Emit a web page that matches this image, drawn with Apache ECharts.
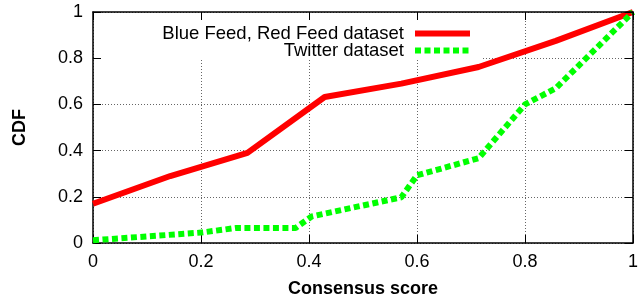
<!DOCTYPE html>
<html>
<head>
<meta charset="utf-8">
<script src="https://cdn.jsdelivr.net/npm/echarts@6/dist/echarts.min.js"></script>
<style>
    html, body { margin: 0; padding: 0; background: #fff; }
    #chart1 { width: 641px; height: 303px; }
</style>
</head>
<body>
<div id="chart1"></div>
<script>
// values
var redName = 'Blue Feed, Red Feed dataset';
var greenName = 'Twitter dataset';
var redX = [0, 0.143, 0.286, 0.429, 0.571, 0.714, 0.857, 1];
var redY = [0.17, 0.29, 0.39, 0.632, 0.69, 0.762, 0.875, 1];
var greenX = [0, 0.2, 0.265, 0.375, 0.405, 0.571, 0.6, 0.714, 0.8, 0.857, 1];
var greenY = [0.012, 0.045, 0.065, 0.065, 0.115, 0.198, 0.293, 0.367, 0.6, 0.67, 1];

var font = "'Liberation Sans', Arial, sans-serif";

var toPairs = function (xs, ys) {
    var out = [];
    for (var i = 0; i < xs.length; i++) {
        out.push([xs[i], ys[i]]);
    }
    return out;
};

var frameLine = { show: true, onZero: false, lineStyle: { color: '#000', width: 1.5 } };
var tickIn = { show: true, inside: true, length: 8, lineStyle: { color: '#000', width: 1 } };
var gridDots = { show: true, lineStyle: { color: '#666', width: 1, type: [1, 2] } };

var legendBase = function (name, top) {
    return {
        data: [name],
        right: 168, top: top, padding: 0,
        align: 'right', itemWidth: 55, itemHeight: 14,
        selectedMode: false,
        itemStyle: { opacity: 0 },      // no symbol, line only
        lineStyle: { width: 6 },
        textStyle: { fontSize: 18.5, color: '#000', fontFamily: font, padding: [0, 6, 0, 0] }
    };
};

var myChart = echarts.init(document.getElementById('chart1'));
var option = {
    animation: false,
    backgroundColor: '#fff',
    textStyle: { fontFamily: font },
    grid: { left: 93, right: 1.5, top: 12, bottom: 60, containLabel: false },
    legend: [legendBase(redName, 24), legendBase(greenName, 41)],
    // key area in gnuplot hides the grid behind it
    graphic: [{
        type: 'rect', z: 1, silent: true,
        shape: { x: 102, y: 21, width: 381, height: 39 },
        style: { fill: '#fff' }
    }],
    xAxis: [{
        type: 'value', min: 0, max: 1, interval: 0.2, position: 'bottom',
        axisLine: frameLine, axisTick: tickIn, splitLine: gridDots,
        axisLabel: { fontSize: 18, color: '#000', margin: 10, fontFamily: font },
        name: 'Consensus score', nameLocation: 'middle', nameGap: 37,
        nameTextStyle: { fontSize: 18, fontWeight: 'bold', color: '#000', fontFamily: font }
    }, {
        type: 'value', min: 0, max: 1, interval: 0.2, position: 'top', z: 3,
        axisLine: frameLine, axisTick: tickIn, splitLine: { show: false },
        axisLabel: { show: false }
    }],
    yAxis: [{
        type: 'value', min: 0, max: 1, interval: 0.2, position: 'left',
        axisLine: frameLine, axisTick: tickIn, splitLine: gridDots,
        axisLabel: { fontSize: 18, color: '#000', margin: 10, fontFamily: font },
        name: 'CDF', nameLocation: 'middle', nameGap: 64,
        nameTextStyle: { fontSize: 18, fontWeight: 'bold', color: '#000', fontFamily: font }
    }, {
        type: 'value', min: 0, max: 1, interval: 0.2, position: 'right', z: 3,
        axisLine: frameLine, axisTick: tickIn, splitLine: { show: false },
        axisLabel: { show: false }
    }],
    series: [{
        name: redName, type: 'line', symbol: 'none', z: 2,
        data: toPairs(redX, redY),
        lineStyle: { color: '#ff0000', width: 6 },
        itemStyle: { color: '#ff0000' }
    }, {
        name: greenName, type: 'line', symbol: 'none', z: 2,
        data: toPairs(greenX, greenY),
        lineStyle: { color: '#00ff00', width: 6, type: [6, 3.5] },
        itemStyle: { color: '#00ff00' }
    }]
};
myChart.setOption(option);
</script>
</body>
</html>
